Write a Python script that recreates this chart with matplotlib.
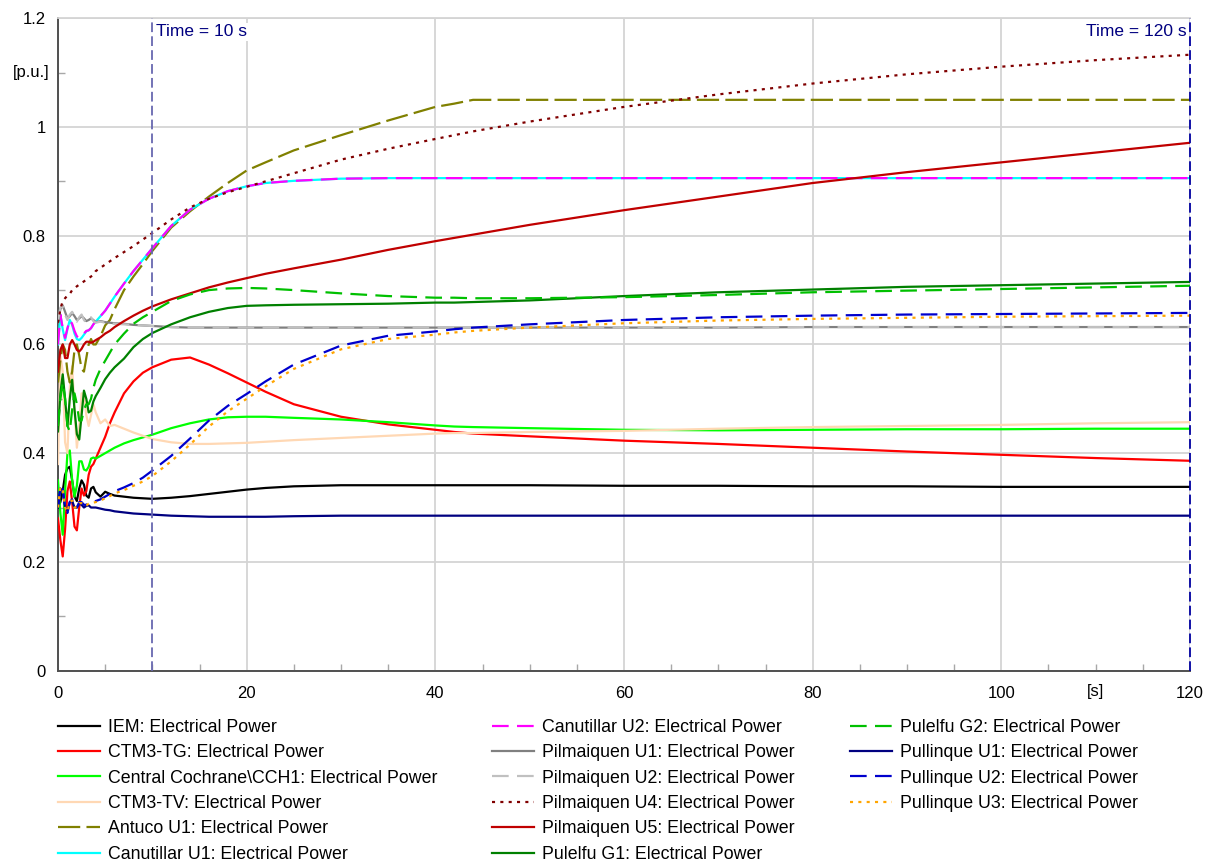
import numpy as np
import matplotlib.pyplot as plt
from matplotlib.lines import Line2D
from matplotlib.ticker import MultipleLocator, FixedLocator, FuncFormatter

plt.rcParams['font.family'] = ['Liberation Sans', 'DejaVu Sans']
plt.rcParams['lines.scale_dashes'] = False

# Simulation time [s] --------------------------------------------------------
t = [0, 0.25, 0.5, 0.75, 1.0, 1.25, 1.5, 1.75, 2.0, 2.25, 2.5, 2.75, 3.0, 3.25, 3.5, 3.75, 4.0,
     4.5, 5.0, 5.5, 6, 7, 8, 9, 10,
     12, 14, 16, 18, 20, 22,
     25, 30, 35, 40, 42, 44, 50,
     60, 70, 80, 90, 100, 110, 120]

# Electrical power of each machine [p.u.] ------------------------------------
iem = [0.30, 0.31, 0.33, 0.36, 0.372, 0.375, 0.35, 0.32, 0.312, 0.335, 0.35, 0.342, 0.322, 0.318, 0.335, 0.338, 0.328,
       0.32, 0.329, 0.325, 0.322, 0.32, 0.318, 0.317, 0.316,
       0.318, 0.321, 0.325, 0.329, 0.333, 0.336,
       0.339, 0.341, 0.341, 0.341, 0.341, 0.341, 0.341,
       0.340, 0.340, 0.339, 0.339, 0.338, 0.338, 0.338]
ctm3_tg = [0.28, 0.24, 0.21, 0.26, 0.33, 0.348, 0.31, 0.265, 0.258, 0.30, 0.335, 0.322, 0.33, 0.36, 0.375, 0.38, 0.39,
           0.41, 0.43, 0.455, 0.475, 0.51, 0.532, 0.548, 0.558,
           0.572, 0.576, 0.563, 0.547, 0.530, 0.513,
           0.49, 0.467, 0.453, 0.443, 0.439, 0.436, 0.431,
           0.423, 0.417, 0.41, 0.403, 0.397, 0.391, 0.386]
cch1 = [0.35, 0.29, 0.25, 0.33, 0.40, 0.405, 0.35, 0.32, 0.34, 0.385, 0.385, 0.37, 0.368, 0.375, 0.39, 0.392, 0.39,
        0.395, 0.40, 0.405, 0.41, 0.418, 0.424, 0.429, 0.434,
        0.446, 0.455, 0.462, 0.466, 0.467, 0.467,
        0.465, 0.462, 0.457, 0.451, 0.449, 0.448, 0.446,
        0.443, 0.442, 0.443, 0.444, 0.444, 0.445, 0.445]
ctm3_tv = [0.38, 0.58, 0.55, 0.42, 0.40, 0.52, 0.56, 0.48, 0.41, 0.45, 0.51, 0.51, 0.47, 0.45, 0.47, 0.49, 0.475,
           0.455, 0.462, 0.45, 0.452, 0.445, 0.438, 0.432, 0.426,
           0.42, 0.417, 0.417, 0.418, 0.419, 0.421,
           0.424, 0.428, 0.432, 0.436, 0.437, 0.437, 0.439,
           0.441, 0.445, 0.448, 0.45, 0.452, 0.455, 0.457]
antuco_u1 = [0.53, 0.57, 0.60, 0.59, 0.55, 0.53, 0.55, 0.59, 0.60, 0.58, 0.555, 0.55, 0.575, 0.60, 0.61, 0.60, 0.60,
             0.615, 0.635, 0.645, 0.665, 0.70, 0.725, 0.748, 0.772,
             0.815, 0.845, 0.872, 0.897, 0.92, 0.935,
             0.957, 0.985, 1.012, 1.037, 1.043, 1.05, 1.05,
             1.05, 1.05, 1.05, 1.05, 1.05, 1.05, 1.05]
canutillar_u1 = [0.60, 0.655, 0.628, 0.608, 0.628, 0.645, 0.636, 0.62, 0.61, 0.608, 0.612, 0.618, 0.624, 0.626, 0.63, 0.637, 0.642,
                 0.652, 0.662, 0.675, 0.688, 0.712, 0.735, 0.756, 0.777,
                 0.818, 0.848, 0.868, 0.882, 0.891, 0.897,
                 0.901, 0.905, 0.906, 0.906, 0.906, 0.906, 0.906,
                 0.906, 0.906, 0.906, 0.906, 0.906, 0.906, 0.906]
canutillar_u2 = [0.60, 0.655, 0.63, 0.612, 0.63, 0.645, 0.638, 0.625, 0.615, 0.612, 0.615, 0.62, 0.625, 0.626, 0.63, 0.637, 0.642,
                 0.652, 0.662, 0.675, 0.688, 0.712, 0.735, 0.756, 0.777,
                 0.818, 0.848, 0.868, 0.882, 0.891, 0.897,
                 0.901, 0.905, 0.906, 0.906, 0.906, 0.906, 0.906,
                 0.906, 0.906, 0.906, 0.906, 0.906, 0.906, 0.906]
pilmaiquen_u1 = [0.64, 0.665, 0.672, 0.66, 0.648, 0.652, 0.658, 0.652, 0.645, 0.648, 0.652, 0.648, 0.643, 0.645, 0.648, 0.645, 0.641,
                 0.643, 0.641, 0.64, 0.639, 0.638, 0.636, 0.635, 0.634,
                 0.632, 0.631, 0.631, 0.631, 0.631, 0.631,
                 0.631, 0.631, 0.631, 0.631, 0.631, 0.631, 0.631,
                 0.631, 0.631, 0.632, 0.632, 0.632, 0.632, 0.632]
pilmaiquen_u2 = [0.645, 0.668, 0.67, 0.655, 0.645, 0.655, 0.66, 0.65, 0.642, 0.65, 0.655, 0.645, 0.64, 0.646, 0.65, 0.643, 0.64,
                 0.642, 0.64, 0.639, 0.638, 0.637, 0.636, 0.635, 0.634,
                 0.632, 0.631, 0.631, 0.631, 0.631, 0.631,
                 0.631, 0.631, 0.631, 0.631, 0.631, 0.631, 0.631,
                 0.631, 0.631, 0.632, 0.632, 0.632, 0.632, 0.632]
pilmaiquen_u4 = [0.64, 0.665, 0.68, 0.685, 0.69, 0.693, 0.70, 0.703, 0.707, 0.71, 0.713, 0.716, 0.719, 0.722, 0.725, 0.728, 0.735,
                 0.741, 0.747, 0.753, 0.759, 0.77, 0.781, 0.793, 0.805,
                 0.83, 0.852, 0.868, 0.88, 0.89, 0.90,
                 0.915, 0.94, 0.96, 0.978, 0.985, 0.992, 1.01,
                 1.037, 1.06, 1.08, 1.097, 1.111, 1.123, 1.133]
pilmaiquen_u5 = [0.55, 0.59, 0.60, 0.575, 0.575, 0.60, 0.608, 0.60, 0.59, 0.587, 0.592, 0.60, 0.605, 0.605, 0.603, 0.605, 0.608,
                 0.613, 0.62, 0.625, 0.632, 0.643, 0.653, 0.662, 0.670,
                 0.683, 0.694, 0.705, 0.714, 0.722, 0.73,
                 0.74, 0.756, 0.774, 0.79, 0.796, 0.802, 0.82,
                 0.847, 0.872, 0.897, 0.917, 0.935, 0.953, 0.971]
pulelfu_g1 = [0.44, 0.51, 0.545, 0.50, 0.45, 0.50, 0.535, 0.48, 0.435, 0.425, 0.47, 0.515, 0.50, 0.475, 0.478, 0.495, 0.505,
              0.52, 0.536, 0.548, 0.558, 0.574, 0.595, 0.61, 0.621,
              0.637, 0.650, 0.660, 0.667, 0.671, 0.672,
              0.673, 0.674, 0.675, 0.677, 0.677, 0.678, 0.681,
              0.689, 0.696, 0.701, 0.706, 0.709, 0.712, 0.715]
pulelfu_g2 = [0.45, 0.50, 0.53, 0.50, 0.45, 0.44, 0.48, 0.51, 0.49, 0.46, 0.46, 0.48, 0.49, 0.49, 0.50, 0.52, 0.535,
              0.555, 0.57, 0.585, 0.60, 0.62, 0.638, 0.65, 0.66,
              0.68, 0.692, 0.70, 0.703, 0.704, 0.703,
              0.70, 0.694, 0.689, 0.686, 0.686, 0.685, 0.685,
              0.687, 0.691, 0.696, 0.699, 0.702, 0.705, 0.708]
pullinque_u1 = [0.30, 0.335, 0.33, 0.30, 0.295, 0.31, 0.312, 0.30, 0.30, 0.307, 0.305, 0.30, 0.303, 0.304, 0.30, 0.30, 0.30,
                0.298, 0.296, 0.295, 0.293, 0.291, 0.289, 0.288, 0.287,
                0.285, 0.284, 0.283, 0.283, 0.283, 0.283,
                0.284, 0.285, 0.285, 0.285, 0.285, 0.285, 0.285,
                0.285, 0.285, 0.285, 0.285, 0.285, 0.285, 0.285]
pullinque_u2 = [0.30, 0.34, 0.335, 0.30, 0.29, 0.31, 0.315, 0.30, 0.30, 0.31, 0.31, 0.305, 0.305, 0.308, 0.31, 0.31, 0.312,
                0.315, 0.32, 0.325, 0.33, 0.337, 0.345, 0.355, 0.368,
                0.395, 0.427, 0.46, 0.487, 0.509, 0.532,
                0.563, 0.598, 0.616, 0.624, 0.628, 0.631, 0.637,
                0.645, 0.650, 0.653, 0.655, 0.656, 0.657, 0.658]
pullinque_u3 = [0.30, 0.338, 0.332, 0.30, 0.292, 0.31, 0.313, 0.30, 0.30, 0.308, 0.308, 0.303, 0.304, 0.307, 0.309, 0.309, 0.31,
                0.313, 0.317, 0.321, 0.326, 0.332, 0.34, 0.348, 0.358,
                0.385, 0.416, 0.449, 0.477, 0.50, 0.523,
                0.555, 0.591, 0.61, 0.618, 0.622, 0.625, 0.631,
                0.639, 0.644, 0.647, 0.649, 0.651, 0.652, 0.653]

names = ["IEM", "CTM3-TG", "Central Cochrane\\CCH1", "CTM3-TV", "Antuco U1",
         "Canutillar U1", "Canutillar U2", "Pilmaiquen U1", "Pilmaiquen U2",
         "Pilmaiquen U4", "Pilmaiquen U5", "Pulelfu G1", "Pulelfu G2",
         "Pullinque U1", "Pullinque U2", "Pullinque U3"]

series = [iem, ctm3_tg, cch1, ctm3_tv, antuco_u1, canutillar_u1, canutillar_u2,
          pilmaiquen_u1, pilmaiquen_u2, pilmaiquen_u4, pilmaiquen_u5,
          pulelfu_g1, pulelfu_g2, pullinque_u1, pullinque_u2, pullinque_u3]

# line styles (dash lengths in points)
solid = '-'
longdash = (0, (16, 4.5))
dash = (0, (12, 6))
dot = (0, (2.2, 3.8))

colors = ['black', '#ff0000', '#00ff00', '#ffd8b4', '#808000', '#00ffff', '#ff00ff',
          '#808080', '#c0c0c0', '#800000', '#c00000', '#008000', '#00c000',
          '#000080', '#0000cd', '#ffa500']
styles = [solid, solid, solid, solid, longdash, solid, dash,
          solid, dash, dot, solid, solid, dash,
          solid, dash, dot]

fig = plt.figure(figsize=(12.14, 8.67), dpi=100)
ax = fig.add_axes([0.04778, 0.22653, 0.93245, 0.75236])

handles = []
for y, name, c, ls in zip(series, names, colors, styles):
    h, = ax.plot(t, y, color=c, linestyle=ls, linewidth=1.6, label=name + ": Electrical Power",
                 zorder=3)
    handles.append(h)

ax.set_xlim(0, 120)
ax.set_ylim(0, 1.2)

# grid and ticks
ax.xaxis.set_major_locator(FixedLocator([0, 20, 40, 60, 80, 100, 120]))
ax.yaxis.set_major_locator(MultipleLocator(0.2))
ax.xaxis.set_minor_locator(MultipleLocator(5))
ax.yaxis.set_minor_locator(MultipleLocator(0.1))
ax.yaxis.set_major_formatter(FuncFormatter(lambda v, p: '%g' % round(v, 2)))
ax.grid(True, which='major', color='#d4d4d4', linewidth=1.3, zorder=0)
ax.set_axisbelow(True)
ax.tick_params(which='major', length=0, labelsize=12, pad=9, colors='black')
ax.tick_params(axis='x', which='major', pad=11)
ax.tick_params(which='minor', direction='in', length=5, width=1, color='#a8a8a8')

for s in ['left', 'bottom']:
    ax.spines[s].set_color('#505050')
    ax.spines[s].set_linewidth(1.4)
ax.spines['top'].set_color('#d4d4d4')
ax.spines['top'].set_linewidth(1.3)
ax.spines['right'].set_visible(False)

# unit labels placed like tick labels
ax.text(-0.0075, 1.1, '[p.u.]', transform=ax.get_yaxis_transform(), ha='right', va='center',
        fontsize=12)
ax.text(110, -0.021, '[s]', transform=ax.get_xaxis_transform(), ha='center', va='top',
        fontsize=12)

# time markers
ax.axvline(10, color='#6868b0', linestyle=(0, (7, 3)), linewidth=1.3, zorder=4)
ax.axvline(120, color='#0000a0', linestyle=(0, (7, 3)), linewidth=1.3, zorder=4, clip_on=False)
ax.text(10.4, 1.175, 'Time = 10 s', color='#000080', fontsize=12.5, ha='left', va='center',
        bbox=dict(facecolor='white', edgecolor='none', pad=1), zorder=5)
ax.text(119.6, 1.175, 'Time = 120 s', color='#000080', fontsize=12.5, ha='right', va='center',
        bbox=dict(facecolor='white', edgecolor='none', pad=1), zorder=5)

# two empty slots so the columns split 6 / 6 / 4
blank = Line2D([], [], color='none')
leg_handles = handles + [blank, blank]
leg_labels = [h.get_label() for h in handles] + ['', '']

fig.legend(leg_handles, leg_labels, loc='upper left', bbox_to_anchor=(0.0478, 0.1707), ncol=3,
           frameon=False, fontsize=12.8, handlelength=2.35, handletextpad=0.45,
           columnspacing=3.1, labelspacing=0.47, borderpad=0, borderaxespad=0)

fig.savefig('out.png', dpi=100)
